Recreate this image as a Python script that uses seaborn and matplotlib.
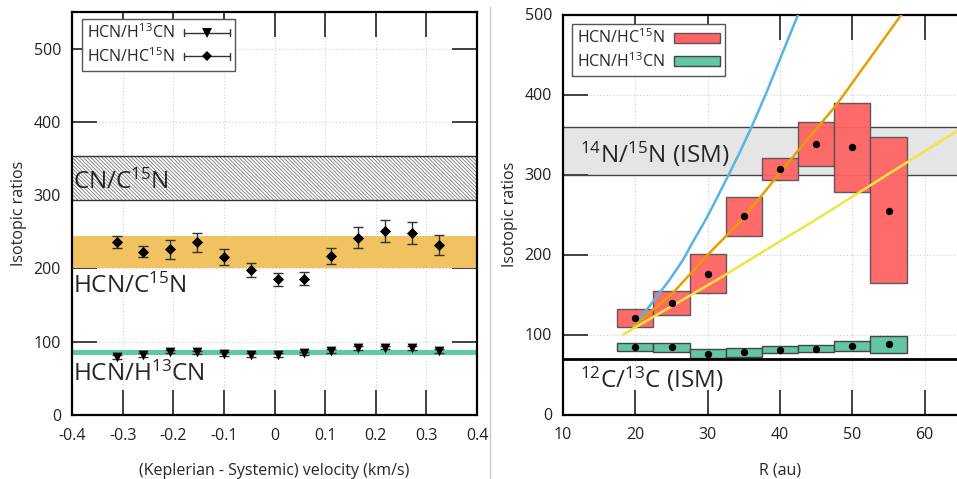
import numpy as np
import pandas as pd
import matplotlib
matplotlib.use("Agg")
import matplotlib.pyplot as plt
import seaborn as sns
from matplotlib.lines import Line2D
from matplotlib.patches import Rectangle
from matplotlib.legend_handler import HandlerBase

# ---------------- data: left panel ----------------
velocity = [-0.312, -0.259, -0.206, -0.153, -0.100, -0.047, 0.006, 0.059, 0.112, 0.165, 0.218, 0.271, 0.324]
ratio_hc15n = [236, 223, 226, 236, 216, 198, 185, 186, 217, 242, 251, 248, 232]
err_hc15n = [8, 7, 13, 13, 11, 9, 9, 9, 11, 14, 15, 15, 13]
ratio_h13cn = [79.5, 82, 86.5, 85.5, 83, 82, 82, 84, 87, 91, 92, 91, 87]
err_h13cn = [2.5, 2.5, 2.5, 2.5, 2.5, 2.5, 2.5, 2.5, 2.5, 2.5, 2.5, 2.5, 2.5]
band_cn_c15n = [293, 354]
band_hcn_c15n = [200, 244]
band_hcn_h13cn = [82, 89]
left_xticks = [-0.4, -0.3, -0.2, -0.1, 0, 0.1, 0.2, 0.3, 0.4]
left_yticks = [0, 100, 200, 300, 400, 500]

# ---------------- data: right panel ----------------
radius = [20, 25, 30, 35, 40, 45, 50, 55]
hc15n_lo = [110, 125, 151.5, 223.5, 293, 310.6, 278.5, 165]
hc15n_hi = [131.5, 154, 200, 272, 321, 366, 389, 347]
hc15n_val = [121, 140, 175.6, 248.5, 307, 338, 334, 255]
h13cn_lo = [80, 78, 70.6, 71.5, 76.5, 77.7, 79.4, 77]
h13cn_hi = [90, 89, 82, 83, 85, 86.5, 91.5, 98.5]
h13cn_val = [85, 84, 75.6, 77.7, 81, 82, 86, 88]
bin_width = 5
ism_n = [300, 360]
ism_c = 69
blue_r = [19.7, 22.0, 24.7, 26.5, 28.1, 29.7, 31.3, 32.9, 34.5, 36.1, 38.2, 40.3, 42.5]
blue_v = [110, 136, 168, 192, 218, 243, 271, 299.5, 329, 360, 404, 451, 500]
orange_r = [19.7, 25.2, 30.2, 34.7, 42.2, 47.8, 56.8]
orange_v = [110, 152, 201.5, 243, 326.5, 387, 500]
yellow_r = [18.3, 24.2, 31.6, 39.9, 44.5, 64.4]
yellow_v = [100, 131, 170, 216, 241, 354]
right_xticks = [10, 20, 30, 40, 50, 60]
right_yticks = [0, 100, 200, 300, 400, 500]

# ---------------- style ----------------
sns.set_style("white")
plt.rcParams["font.family"] = ["Open Sans", "DejaVu Sans"]
plt.rcParams["mathtext.fontset"] = "custom"
plt.rcParams["mathtext.rm"] = "Open Sans"
plt.rcParams["mathtext.it"] = "Open Sans:italic"
plt.rcParams["mathtext.bf"] = "Open Sans:bold"
plt.rcParams["axes.unicode_minus"] = False
plt.rcParams["hatch.linewidth"] = 0.6

FS = 11.5
BIG = 17.5
TICKC = "#333333"
GRIDC = "#cfcfcf"

fig = plt.figure(figsize=(9.57, 4.79), dpi=100)
W, H = 957, 479
def frac(x0, y0, x1, y1):
    return [x0 / W, 1 - y1 / H, (x1 - x0) / W, (y1 - y0) / H]

axL = fig.add_axes(frac(72, 12, 477, 415))
axR = fig.add_axes(frac(563, 14.5, 997, 414.5))

def style_axes(ax, xt, yt):
    ax.set_xticks(xt)
    ax.set_yticks(yt)
    ax.tick_params(axis="both", which="major", direction="in", length=18, width=1.3,
                   color=TICKC, labelsize=FS, top=True, right=True, bottom=True, left=True,
                   labelcolor="#222222")
    ax.tick_params(axis="x", pad=9)
    ax.tick_params(axis="y", pad=8)
    for s in ax.spines.values():
        s.set_visible(True)
        s.set_color("black")
        s.set_linewidth(1.6)
    for x in xt:
        ax.axvline(x, color=GRIDC, lw=0.8, ls=(0, (1, 2)), zorder=0.2)
    for y in yt:
        ax.axhline(y, color=GRIDC, lw=0.8, ls=(0, (1, 2)), zorder=0.2)

# ---------------- left panel ----------------
axL.set_xlim(-0.4, 0.4)
axL.set_ylim(0, 550)
style_axes(axL, left_xticks, left_yticks)
axL.set_xticklabels([f"{v:g}" for v in left_xticks])

axL.axhspan(band_cn_c15n[0], band_cn_c15n[1], facecolor="white", edgecolor="#777777",
            hatch="\\" * 9, lw=0, zorder=1)
for y in band_cn_c15n:
    axL.axhline(y, color="#333333", lw=1.0, zorder=1.1)
axL.axhspan(band_hcn_c15n[0], band_hcn_c15n[1], color="#f0c262", lw=0, zorder=1)
axL.axhspan(band_hcn_h13cn[0], band_hcn_h13cn[1], color="#5fc9a6", lw=0, zorder=1)

axL.text(-0.399, 309, r"CN/C$^{15}$N", fontsize=BIG, va="baseline", ha="left", zorder=3)
axL.text(-0.399, 166, r"HCN/C$^{15}$N", fontsize=BIG, va="baseline", ha="left", zorder=3)
axL.text(-0.399, 47, r"HCN/H$^{13}$CN", fontsize=BIG, va="baseline", ha="left", zorder=3)

dfL = pd.DataFrame({"v": velocity, "hc15n": ratio_hc15n, "e15": err_hc15n,
                    "h13cn": ratio_h13cn, "e13": err_h13cn})
axL.errorbar(dfL["v"], dfL["hc15n"], yerr=dfL["e15"], fmt="none", ecolor="#333333",
             elinewidth=1.0, capsize=3.5, capthick=1.0, zorder=3)
axL.errorbar(dfL["v"], dfL["h13cn"], yerr=dfL["e13"], fmt="none", ecolor="#333333",
             elinewidth=1.0, capsize=3.5, capthick=1.0, zorder=3)
sns.scatterplot(data=dfL, x="v", y="hc15n", marker="D", s=32, color="black",
                edgecolor="black", linewidth=0, ax=axL, zorder=4)
sns.scatterplot(data=dfL, x="v", y="h13cn", marker="v", s=50, color="black",
                edgecolor="black", linewidth=0, ax=axL, zorder=4)
axL.set_xlabel("(Keplerian - Systemic) velocity (km/s)", fontsize=FS, labelpad=14)
axL.set_ylabel("Isotopic ratios", fontsize=FS, labelpad=5)


class HandlerErr(HandlerBase):
    def __init__(self, marker, ms, **kw):
        super().__init__(**kw)
        self.marker = marker
        self.ms = ms

    def create_artists(self, legend, orig_handle, xdescent, ydescent, width, height,
                       fontsize, trans):
        y = height / 2 - ydescent
        x0 = -xdescent
        x1 = x0 + width
        c = 0.32 * height
        arts = [
            Line2D([x0, x1], [y, y], color="#333333", lw=1.0),
            Line2D([x0, x0], [y - c, y + c], color="#333333", lw=1.0),
            Line2D([x1, x1], [y - c, y + c], color="#333333", lw=1.0),
            Line2D([(x0 + x1) / 2], [y], marker=self.marker, ms=self.ms, color="black",
                   ls="none", markeredgewidth=0),
        ]
        for a in arts:
            a.set_transform(trans)
        return arts


hA = Line2D([], [])
hB = Line2D([], [])
legL = axL.legend([hA, hB], [r"HCN/H$^{13}$CN", r"HCN/HC$^{15}$N"],
                  handler_map={hA: HandlerErr("v", 7), hB: HandlerErr("D", 5)},
                  loc="upper left", bbox_to_anchor=((82 - 72) / 405, 1 - (19 - 12) / 403),
                  borderaxespad=0, fontsize=FS, markerfirst=False, frameon=True,
                  fancybox=False, framealpha=1, edgecolor="#555555", handlelength=2.9,
                  handletextpad=0.6, borderpad=0.3, labelspacing=0.3)
legL.get_frame().set_linewidth(1.0)
legL.set_zorder(10)

# ---------------- right panel ----------------
axR.set_xlim(10, 70)
axR.set_ylim(0, 500)
style_axes(axR, right_xticks, right_yticks)

axR.axhspan(ism_n[0], ism_n[1], color="#e5e5e5", lw=0, zorder=0.5)
for y in ism_n:
    axR.axhline(y, color="#444444", lw=1.0, zorder=0.6)
axR.axhline(ism_c, color="black", lw=2.0, zorder=2.6)

red = "#ff6363"
teal = "#62c5a6"
r_arr = np.array(radius)
axR.bar(r_arr, np.array(hc15n_hi) - np.array(hc15n_lo), bottom=hc15n_lo, width=bin_width,
        color=red, edgecolor="#555555", linewidth=1.0, alpha=0.95, zorder=1.2)
axR.bar(r_arr, np.array(h13cn_hi) - np.array(h13cn_lo), bottom=h13cn_lo, width=bin_width,
        color=teal, edgecolor="#444444", linewidth=1.0, zorder=1.2)

curves = pd.concat([
    pd.DataFrame({"R": blue_r, "v": blue_v, "m": "blue"}),
    pd.DataFrame({"R": orange_r, "v": orange_v, "m": "orange"}),
    pd.DataFrame({"R": yellow_r, "v": yellow_v, "m": "yellow"}),
])
sns.lineplot(data=curves, x="R", y="v", hue="m", sort=False, estimator=None,
             palette={"blue": "#56b4e9", "orange": "#e69f00", "yellow": "#f0e442"},
             linewidth=1.8, legend=False, ax=axR, zorder=3)

pts = pd.concat([
    pd.DataFrame({"R": radius, "v": hc15n_val}),
    pd.DataFrame({"R": radius, "v": h13cn_val}),
])
sns.scatterplot(data=pts, x="R", y="v", color="black", s=28, linewidth=0, ax=axR, zorder=4)

axR.text(12.3, 314, r"$^{14}$N/$^{15}$N (ISM)", fontsize=BIG, va="baseline", ha="left", zorder=3)
axR.text(12.3, 32.7, r"$^{12}$C/$^{13}$C (ISM)", fontsize=BIG, va="baseline", ha="left", zorder=3)
axR.set_xlabel("R (au)", fontsize=FS, labelpad=14)
axR.set_ylabel("Isotopic ratios", fontsize=FS, labelpad=5)

pR1 = Rectangle((0, 0), 1, 1, facecolor=red, edgecolor="#555555", lw=1.0)
pR2 = Rectangle((0, 0), 1, 1, facecolor=teal, edgecolor="#444444", lw=1.0)
legR = axR.legend([pR1, pR2], [r"HCN/HC$^{15}$N", r"HCN/H$^{13}$CN"],
                  loc="upper left", bbox_to_anchor=((572 - 563) / 434, 1 - (24 - 14.5) / 400),
                  borderaxespad=0, fontsize=FS, markerfirst=False, frameon=True,
                  fancybox=False, framealpha=1, edgecolor="#555555", handlelength=2.9,
                  handleheight=0.6, handletextpad=0.6, borderpad=0.3, labelspacing=0.3)
legR.get_frame().set_linewidth(1.0)
legR.set_zorder(10)

fig.add_artist(Line2D([490 / W, 490 / W], [0, 1 - 7 / H], color="#cccccc", lw=1.0,
                      transform=fig.transFigure))

fig.savefig("out.png", dpi=100)
